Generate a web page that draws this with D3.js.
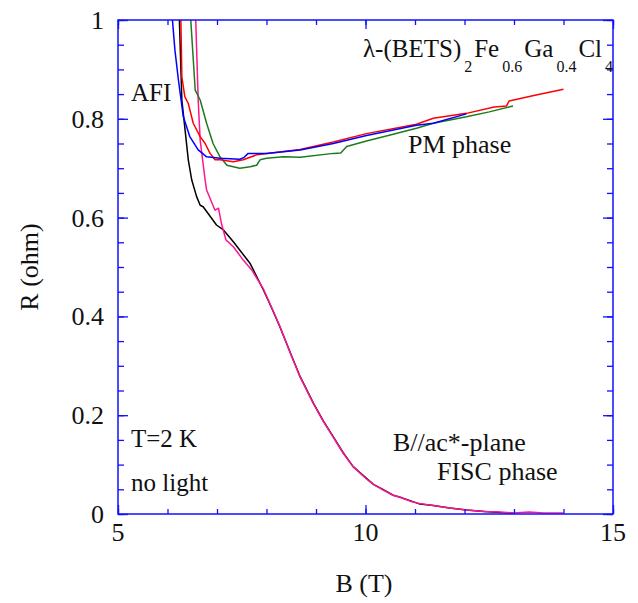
<!DOCTYPE html>
<html>
<head>
<meta charset="utf-8">
<script src="https://cdn.jsdelivr.net/npm/d3@7"></script>
<style>
  body { margin: 0; background: #fff; }
  #chart text { font-family: 'Liberation Serif', 'Times New Roman', serif !important; }
</style>
</head>
<body>
<svg id="chart"></svg>
<script>
// field range and ticks
const xDomain = [5, 15], yDomain = [0, 1];
const xLabels = [5, 10, 15];
const yLabels = [0, 0.2, 0.4, 0.6, 0.8, 1];

// [B (T), R (ohm)]
const blackCurve = [[6.18,1.08],[6.24,1.0],[6.29,0.838],[6.42,0.717],[6.49,0.676],[6.59,0.642],[6.66,0.625],
  [6.72,0.622],[6.99,0.585],[7.13,0.575],[7.33,0.551],[7.67,0.507],[7.94,0.453],[8.1,0.418],[8.27,0.379],
  [8.5,0.322],[8.68,0.278],[8.95,0.224],[9.15,0.188],[9.35,0.156],[9.55,0.124],[9.75,0.096],[10.02,0.072],
  [10.16,0.060],[10.35,0.050],[10.56,0.038],[10.7,0.034],[10.9,0.027],[11.1,0.020],[11.37,0.017],
  [11.7,0.012],[12.04,0.008],[12.4,0.005],[12.72,0.003],[12.98,0.002]];
const pinkCurve = [[6.55,1.08],[6.57,1.0],[6.62,0.838],[6.66,0.757],[6.76,0.676],[6.79,0.656],[6.93,0.622],
  [6.96,0.615],[7.03,0.619],[7.09,0.588],[7.18,0.555],[7.33,0.541],[7.53,0.514],[7.7,0.494],[7.94,0.455],
  [8.1,0.419],[8.27,0.380],[8.5,0.321],[8.68,0.277],[8.95,0.223],[9.15,0.187],[9.35,0.155],[9.55,0.123],
  [9.75,0.096],[10.02,0.071],[10.16,0.060],[10.35,0.049],[10.56,0.038],[10.7,0.034],[10.9,0.026],
  [11.1,0.021],[11.37,0.017],[11.7,0.012],[12.04,0.008],[12.4,0.005],[12.72,0.004],[13.0,0.002],
  [13.3,0.004],[13.6,0.002],[14.0,0.002]];
const greenCurve = [[6.45,1.08],[6.47,1.0],[6.56,0.858],[6.66,0.838],[6.79,0.791],[6.92,0.750],[7.06,0.723],
  [7.2,0.706],[7.46,0.700],[7.67,0.703],[7.8,0.706],[7.87,0.717],[8.0,0.720],[8.34,0.723],[8.68,0.722],
  [9.35,0.730],[9.5,0.731],[9.62,0.744],[10.02,0.755],[10.5,0.767],[11.03,0.781],[11.37,0.791],
  [12.04,0.804],[12.5,0.814],[12.98,0.826]];
const redCurve = [[6.26,1.08],[6.27,1.0],[6.29,0.885],[6.35,0.845],[6.42,0.831],[6.52,0.791],[6.66,0.764],
  [6.76,0.750],[6.86,0.730],[6.96,0.717],[7.06,0.717],[7.33,0.713],[7.53,0.717],[7.8,0.727],[8.68,0.738],
  [9.35,0.753],[10.02,0.770],[11.03,0.789],[11.37,0.801],[12.04,0.811],[12.6,0.824],[12.85,0.826],
  [12.9,0.836],[13.4,0.847],[14.0,0.860]];
const blueCurve = [[6.08,1.08],[6.10,1.0],[6.15,0.939],[6.22,0.879],[6.32,0.804],[6.45,0.764],[6.62,0.737],
  [6.79,0.723],[7.06,0.720],[7.46,0.718],[7.55,0.722],[7.63,0.730],[8.0,0.730],[8.68,0.737],[9.35,0.750],
  [10.02,0.766],[11.03,0.787],[11.37,0.791],[12.04,0.810]];

const series = [
  { data: blackCurve, color: "#000000" },
  { data: pinkCurve, color: "#ff1493" },
  { data: greenCurve, color: "#1e7a1e" },
  { data: redCurve, color: "#ff0000" },
  { data: blueCurve, color: "#0000ff" }
];

const width = 638, height = 603;
const margin = { top: 20, right: 25, bottom: 89, left: 118 };
const innerW = width - margin.left - margin.right;
const innerH = height - margin.top - margin.bottom;
const axisColor = "#1010ff";
const serif = "'Liberation Serif'";
const ink = "#111";

const svg = d3.select("#chart").attr("width", width).attr("height", height);
const g = svg.append("g").attr("transform", `translate(${margin.left},${margin.top})`);

const x = d3.scaleLinear().domain(xDomain).range([0, innerW]);
const y = d3.scaleLinear().domain(yDomain).range([innerH, 0]);

g.append("clipPath").attr("id", "clip")
  .append("rect").attr("width", innerW).attr("height", innerH);

const line = d3.line().x(d => x(d[0])).y(d => y(d[1]));

g.append("g").attr("clip-path", "url(#clip)")
  .selectAll("path.curve")
  .data(series)
  .enter()
  .append("path")
  .attr("class", "curve")
  .attr("d", d => line(d.data))
  .style("fill", "none")
  .style("stroke", d => d.color)
  .style("stroke-width", 1.5)
  .style("stroke-linejoin", "round");

// inward ticks on all four sides
function ticksAxis(axis, size) {
  return axis.tickSizeInner(size).tickSizeOuter(0).tickFormat("");
}
const xMinor = d3.range(5, 15.01, 1), xMajor = xLabels;
const yMinor = d3.range(0, 1.001, 0.05), yMajor = yLabels;

const axes = [
  [ticksAxis(d3.axisBottom(x).tickValues(xMinor), -5), `translate(0,${innerH})`],
  [ticksAxis(d3.axisBottom(x).tickValues(xMajor), -9), `translate(0,${innerH})`],
  [ticksAxis(d3.axisTop(x).tickValues(xMinor), -5), null],
  [ticksAxis(d3.axisTop(x).tickValues(xMajor), -9), null],
  [ticksAxis(d3.axisLeft(y).tickValues(yMinor), -6), null],
  [ticksAxis(d3.axisLeft(y).tickValues(yMajor), -10), null],
  [ticksAxis(d3.axisRight(y).tickValues(yMinor), -6), `translate(${innerW},0)`],
  [ticksAxis(d3.axisRight(y).tickValues(yMajor), -10), `translate(${innerW},0)`]
];
axes.forEach(([ax, tr]) => {
  const a = g.append("g").call(ax);
  if (tr) a.attr("transform", tr);
  a.select(".domain").remove();
  a.selectAll("text").remove();
  a.selectAll("line").attr("stroke", axisColor).attr("stroke-width", 1.3);
});

g.append("rect")
  .attr("width", innerW).attr("height", innerH)
  .style("fill", "none").style("stroke", axisColor).style("stroke-width", 1.5);

// all annotation text lives in its own group
const txt = svg.append("g").attr("font-family", serif).attr("fill", ink);
function addText(tx, ty, str, size, anchor) {
  return txt.append("text").attr("x", tx).attr("y", ty)
    .attr("text-anchor", anchor || "start")
    .attr("font-size", size)
    .style("font-family", serif, "important")
    .text(str);
}

// tick labels
xLabels.forEach(v => addText(margin.left + x(v), margin.top + innerH + 27, v, 26, "middle"));
yLabels.forEach(v => addText(margin.left - 14, margin.top + y(v) + 9, v, 26, "end"));

// axis titles
addText(364, 592, "B (T)", 26, "middle");
addText(0, 0, "R (ohm)", 26, "middle").attr("transform", "translate(38,267) rotate(-90)");

// annotations
addText(131, 101, "AFI", 25);
addText(408, 153, "PM phase", 26);
addText(131, 447, "T=2 K", 25);
addText(131, 491, "no light", 25);
addText(393, 451, "B//ac*-plane", 26);
addText(437, 480, "FISC phase", 26);

const formula = addText(361, 57, "", 25);
const parts = [["λ-(BETS)", false], ["2", true], ["Fe", false], ["0.6", true],
  ["Ga", false], ["0.4", true], ["Cl", false], ["4", true]];
let prevSub = false;
parts.forEach(([s, sub]) => {
  const shift = sub === prevSub ? 0 : (sub ? 15 : -15);
  formula.append("tspan")
    .attr("dy", shift)
    .attr("dx", sub ? 3 : 2)
    .attr("font-size", sub ? 16 : 25)
    .text(s);
  prevSub = sub;
});
</script>
</body>
</html>
